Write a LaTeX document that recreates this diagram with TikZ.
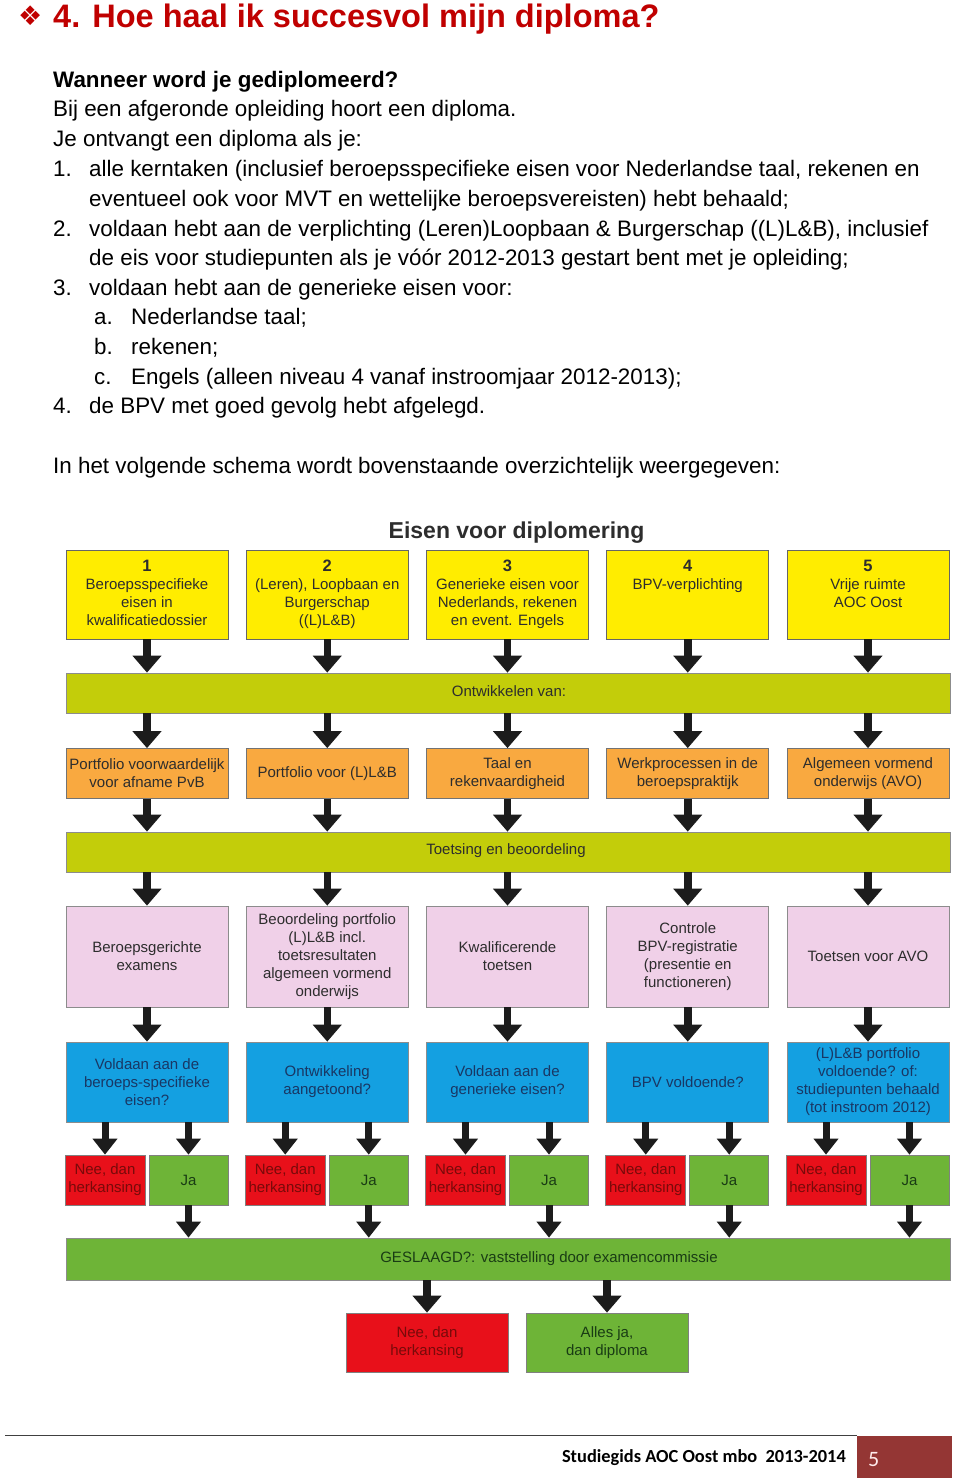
\documentclass[tikz,border=0pt]{standalone}
\usepackage{fontspec}
\setmainfont{Liberation Sans}
\newfontfamily\dejavu{DejaVu Sans}
\newfontfamily\carlito{Carlito}
\usetikzlibrary{arrows.meta}
\definecolor{titlered}{RGB}{192,0,0}
\definecolor{dtext}{RGB}{45,45,45}
\definecolor{cyellow}{RGB}{255,237,0}
\definecolor{cbar}{RGB}{195,205,10}
\definecolor{corange}{RGB}{249,169,64}
\definecolor{cpink}{RGB}{240,208,232}
\definecolor{cblue}{RGB}{20,160,225}
\definecolor{tblue}{RGB}{25,55,100}
\definecolor{cred}{RGB}{232,16,26}
\definecolor{tred}{RGB}{120,10,10}
\definecolor{cgreen}{RGB}{110,180,55}
\definecolor{tgreen}{RGB}{25,60,20}
\definecolor{carrow}{RGB}{28,28,28}
\definecolor{cfoot}{RGB}{148,54,52}
\begin{document}
\begin{tikzpicture}[x=1pt,y=-1pt,
  body/.style={anchor=base west, inner sep=0pt, font=\fontsize{22.4}{26}\selectfont},
  dbox/.style={line width=0.7pt, minimum width=162pt, inner sep=1pt, align=center,
    font=\fontsize{15}{18}\selectfont, text=dtext},
  ybox/.style={dbox, fill=cyellow, draw=black!60, minimum height=89pt},
  obox/.style={dbox, fill=corange, draw=black!55, minimum height=50pt},
  pbox/.style={dbox, fill=cpink, draw=black!45, minimum height=101pt},
  bbox/.style={dbox, fill=cblue, draw=black!45, minimum height=80pt, text=tblue},
  rbox/.style={dbox, fill=cred, draw=black!50, text=tred},
  gbox/.style={dbox, fill=cgreen, draw=black!50, text=tgreen},
  smallr/.style={rbox, minimum width=80pt, minimum height=50pt},
  smallg/.style={gbox, minimum width=79pt, minimum height=50pt},
  bar/.style={line width=0.7pt, minimum width=884pt, inner sep=0pt},
  bartext/.style={inner sep=0pt, font=\fontsize{15}{18}\selectfont, text=dtext},
  btext/.style={inner sep=0pt, align=center, font=\fontsize{15}{18}\selectfont, text=dtext},
  farrow/.style={draw=carrow, line width=7.5pt, -{Triangle[width=28pt,length=17pt]}},
  sarrow/.style={draw=carrow, line width=7pt, -{Triangle[width=24pt,length=16pt]}},
]
\useasboundingbox (0,0) rectangle (960,1482);
\fill[white] (0,0) rectangle (960,1482);

% title
\node[anchor=base west, inner sep=0pt, text=titlered, font=\dejavu\fontsize{27}{28}\selectfont] (bul) at (18,26) {❖};
\node[anchor=base west, inner sep=0pt, text=titlered, font=\bfseries\fontsize{32.5}{36}\selectfont] (title) at (53,28) {4. Hoe haal ik succesvol mijn diploma?};

% body text
\node[body, font=\bfseries\fontsize{22.4}{26}\selectfont] (l1) at (53,87.5) {Wanneer word je gediplomeerd?};
\node[body] (l2) at (53,117) {Bij een afgeronde opleiding hoort een diploma.};
\node[body] (l3) at (53,147) {Je ontvangt een diploma als je:};
\node[body] (n1) at (53,176.5) {1.};
\node[body] (l4) at (89,176.5) {alle kerntaken (inclusief beroepsspecifieke eisen voor Nederlandse taal, rekenen en};
\node[body] (l5) at (89,206) {eventueel ook voor MVT en wettelijke beroepsvereisten) hebt behaald;};
\node[body] (n2) at (53,236) {2.};
\node[body] (l6) at (89,236) {voldaan hebt aan de verplichting (Leren)Loopbaan \& Burgerschap ((L)L\&B), inclusief};
\node[body] (l7) at (89,265.5) {de eis voor studiepunten als je vóór 2012-2013 gestart bent met je opleiding;};
\node[body] (n3) at (53,295) {3.};
\node[body] (l8) at (89,295) {voldaan hebt aan de generieke eisen voor:};
\node[body] (na) at (94,324.5) {a.};
\node[body] (l9) at (131,324.5) {Nederlandse taal;};
\node[body] (nb) at (94,354) {b.};
\node[body] (l10) at (131,354) {rekenen;};
\node[body] (nc) at (94,384) {c.};
\node[body] (l11) at (131,384) {Engels (alleen niveau 4 vanaf instroomjaar 2012-2013);};
\node[body] (n4) at (53,413.5) {4.};
\node[body] (l12) at (89,413.5) {de BPV met goed gevolg hebt afgelegd.};
\node[body] (l13) at (53,473) {In het volgende schema wordt bovenstaande overzichtelijk weergegeven:};

% diagram title
\node[anchor=base, inner sep=0pt, text=dtext, font=\bfseries\fontsize{23}{26}\selectfont] (dtitle) at (516.5,538.5) {Eisen voor diplomering};

% yellow row
\node[ybox] (y1) at (147,594.5) {};
\node[ybox] (y2) at (327.25,594.5) {};
\node[ybox] (y3) at (507.5,594.5) {};
\node[ybox] (y4) at (687.75,594.5) {};
\node[ybox] (y5) at (868,594.5) {};
\node[btext, anchor=north] (y1t) at (147,560) {\textbf{\fontsize{16.5}{18}\selectfont 1}\\Beroepsspecifieke\\eisen in\\kwalificatiedossier};
\node[btext, anchor=north] (y2t) at (327.25,560) {\textbf{\fontsize{16.5}{18}\selectfont 2}\\(Leren), Loopbaan en\\Burgerschap\\((L)L\&B)};
\node[btext, anchor=north] (y3t) at (507.5,560) {\textbf{\fontsize{16.5}{18}\selectfont 3}\\Generieke eisen voor\\Nederlands, rekenen\\en event. Engels};
\node[btext, anchor=north] (y4t) at (687.75,560) {\textbf{\fontsize{16.5}{18}\selectfont 4}\\BPV-verplichting};
\node[btext, anchor=north] (y5t) at (868,560) {\textbf{\fontsize{16.5}{18}\selectfont 5}\\Vrije ruimte\\AOC Oost};

% bar 1
\node[bar, fill=cbar, draw=black!45, minimum height=40pt] (bar1) at (508,693) {};
\node[bartext] (bar1t) at (509,691) {Ontwikkelen van:};

% orange row
\node[obox] (o1) at (147,773.5) {Portfolio voorwaardelijk\\voor afname PvB};
\node[obox] (o2) at (327.25,773.5) {Portfolio voor (L)L\&B};
\node[obox] (o3) at (507.5,773.5) {Taal en\\rekenvaardigheid};
\node[obox] (o4) at (687.75,773.5) {Werkprocessen in de\\beroepspraktijk};
\node[obox] (o5) at (868,773.5) {Algemeen vormend\\onderwijs (AVO)};

% bar 2
\node[bar, fill=cbar, draw=black!45, minimum height=40pt] (bar2) at (508,852) {};
\node[bartext] (bar2t) at (506,851) {Toetsing en beoordeling};

% pink row
\node[pbox] (p1) at (147,956.5) {Beroepsgerichte\\examens};
\node[pbox] (p2) at (327.25,956.5) {Beoordeling portfolio\\(L)L\&B incl.\\toetsresultaten\\algemeen vormend\\onderwijs};
\node[pbox] (p3) at (507.5,956.5) {Kwalificerende\\toetsen};
\node[pbox] (p4) at (687.75,956.5) {Controle\\BPV-registratie\\(presentie en\\functioneren)};
\node[pbox] (p5) at (868,956.5) {Toetsen voor AVO};

% blue row
\node[bbox] (b1) at (147,1082) {Voldaan aan de\\beroeps-specifieke\\eisen?};
\node[bbox] (b2) at (327.25,1082) {Ontwikkeling\\aangetoond?};
\node[bbox] (b3) at (507.5,1082) {Voldaan aan de\\generieke eisen?};
\node[bbox] (b4) at (687.75,1082) {BPV voldoende?};
\node[bbox] (b5) at (868,1082) {(L)L\&B portfolio\\voldoende? of:\\studiepunten behaald\\(tot instroom 2012)};

% red / green small row
\foreach \k/\cx in {1/0,2/180.25,3/360.5,4/540.75,5/721}{
  \node[smallr] (r\k) at ({105+\cx},1180) {Nee, dan\\herkansing};
  \node[smallg] (g\k) at ({188.5+\cx},1180) {Ja};
}

% bar 3
\node[bar, fill=cgreen, draw=black!45, minimum height=42pt] (bar3) at (508,1259) {};
\node[bartext, text=tgreen] (bar3t) at (549,1258.5) {GESLAAGD?: vaststelling door examencommissie};

% final boxes
\node[rbox, minimum height=59pt] (nr) at (427,1342.5) {Nee, dan\\herkansing};
\node[gbox, minimum height=59pt] (ng) at (607,1342.5) {Alles ja,\\dan diploma};

% arrows
\foreach \k in {1,...,5}{
  \draw[farrow] (y\k.south) -- (y\k.south |- bar1.north);
  \draw[farrow] (bar1.south -| o\k.north) -- (o\k.north);
  \draw[farrow] (o\k.south) -- (o\k.south |- bar2.north);
  \draw[farrow] (bar2.south -| p\k.north) -- (p\k.north);
  \draw[farrow] (p\k.south) -- (b\k.north);
  \draw[sarrow] (b\k.south -| r\k.north) -- (r\k.north);
  \draw[sarrow] (b\k.south -| g\k.north) -- (g\k.north);
  \draw[sarrow] (g\k.south) -- (g\k.south |- bar3.north);
}
\draw[farrow] (bar3.south -| nr.north) -- (nr.north);
\draw[farrow] (bar3.south -| ng.north) -- (ng.north);

% footer
\coordinate (fl) at (5,1435.5);
\node[fill=cfoot, minimum width=95pt, minimum height=42pt, inner sep=0pt, anchor=north west] (pg) at (857,1436) {};
\draw[black!75, line width=1.2pt] (fl) -- (fl -| pg.west);
\node[anchor=base east, inner sep=0pt, font=\carlito\bfseries\fontsize{18.4}{20}\selectfont] (foot) at (846,1462) {Studiegids AOC Oost mbo\ \ 2013-2014};
\node[anchor=base west, inner sep=0pt, text=white!92!red, font=\carlito\fontsize{22}{24}\selectfont] (pgn) at (868,1466) {5};
\end{tikzpicture}
\end{document}
